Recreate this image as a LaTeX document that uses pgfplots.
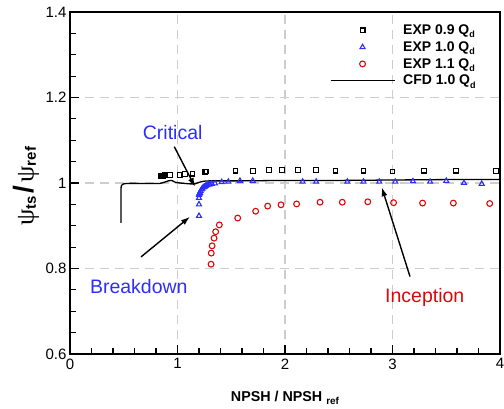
\documentclass[border=0pt]{standalone}
\usepackage{fontspec}
\setmainfont{Liberation Sans}
\newfontfamily\greek{Liberation Serif}
\usepackage{pgfplots}
\pgfplotsset{compat=1.18}
\usetikzlibrary{arrows.meta}

\definecolor{expblue}{RGB}{45,45,255}
\definecolor{expred}{RGB}{215,10,10}
\definecolor{gridgray}{RGB}{205,205,205}

\newcommand{\sub}[2][9]{\raisebox{-0.45ex}{\fontsize{#1}{#1}\selectfont #2}}

\begin{document}
\begin{tikzpicture}
\path[use as bounding box] (-70pt,-55pt) rectangle (434pt,354pt);
\begin{axis}[
  scale only axis,
  width=430pt, height=342pt,
  xmin=0, xmax=4, ymin=0.6, ymax=1.4,
  xtick={0,1,2,3,4},
  ytick={0.6,0.8,1,1.2,1.4},
  yticklabels={0.6,0.8,1,1.2,1.4},
  minor x tick num=4,
  minor y tick num=3,
  xtick pos=left, ytick pos=left,
  tick align=inside,
  major tick length=9pt, minor tick length=6pt,
  every tick/.style={black, line width=1.2pt},
  axis line style={line width=1.8pt},
  grid=major,
  major grid style={gridgray, line width=1.3pt, dash pattern=on 9pt off 6pt},
  /pgf/number format/assume math mode=true,
  ticklabel style={font=\fontsize{15}{15}\selectfont},
  xticklabel style={yshift=-1pt},
  xlabel={\bfseries NPSH / NPSH \sub[10]{ref}},
  xlabel style={at={(axis description cs:0.5,-0.128)}, anchor=center, font=\fontsize{14.3}{14.3}\selectfont},
  ylabel={{\greek\fontsize{26}{26}\selectfont ψ}\sub[15]{\bfseries ts}\hspace{3pt}{\bfseries\fontsize{28}{28}\selectfont /}\hspace{3pt}{\greek\fontsize{26}{26}\selectfont ψ}\sub[15]{\bfseries ref}},
  ylabel style={at={(axis description cs:-0.102,0.49)}, anchor=center},
  legend style={draw=none, fill=none, at={(rel axis cs:0.597,0.975)}, anchor=north west,
    font=\bfseries\fontsize{14}{14}\selectfont, row sep=1.5pt, column sep=6pt},
  legend cell align=left,
  legend image code/.code={\draw[mark repeat=2,mark phase=2,#1] plot coordinates {(0pt,0pt) (32pt,0pt) (64pt,0pt)};},
]
\addplot[only marks, mark=square, mark size=2.4pt, mark options={black, line width=1.1pt}] coordinates {
(0.85,1.017)(0.86,1.017)(0.87,1.017)(0.88,1.018)(0.93,1.018)(1.02,1.019)(1.07,1.021)(1.14,1.022)
(1.26,1.025)(1.27,1.027)(1.54,1.029)(1.70,1.028)(1.85,1.030)(1.975,1.030)(2.12,1.030)(2.29,1.030)
(2.47,1.029)(2.73,1.029)(3.00,1.027)(3.29,1.029)(3.59,1.029)(3.96,1.028)};
\addlegendentry{EXP 0.9 Q\sub{d}}
\addplot[only marks, mark=triangle, mark size=2.9pt, mark options={expblue, line width=1.1pt}] coordinates {
(1.20,0.923)(1.20,0.950)(1.20,0.965)(1.20,0.972)(1.203,0.975)(1.209,0.977)(1.215,0.981)(1.225,0.985)
(1.23,0.987)(1.24,0.990)(1.25,0.991)(1.262,0.993)(1.275,0.995)(1.287,0.996)(1.30,0.997)(1.318,0.998)
(1.349,0.999)(1.411,1.002)(1.473,1.003)(1.581,1.005)(1.70,1.005)(2.164,1.003)(2.29,1.003)(2.58,1.003)
(2.73,1.003)(2.877,1.003)(3.026,1.003)(3.19,1.004)(3.35,1.003)(3.50,1.005)(3.665,1.000)(3.83,0.998)};
\addlegendentry{EXP 1.0 Q\sub{d}}
\addplot[only marks, mark=o, mark size=2.9pt, mark options={expred, line width=1.1pt}] coordinates {
(1.312,0.810)(1.314,0.836)(1.322,0.853)(1.34,0.871)(1.355,0.886)(1.389,0.902)(1.56,0.918)(1.727,0.934)
(1.839,0.946)(1.963,0.949)(2.108,0.951)(2.326,0.955)(2.533,0.955)(2.77,0.956)(3.01,0.954)(3.28,0.953)
(3.566,0.953)(3.904,0.952)};
\addlegendentry{EXP 1.1 Q\sub{d}}
\addplot[black, line width=1.3pt, smooth, tension=0.3] coordinates {
(0.474,0.907)(0.474,0.984)(0.479,0.994)(0.49,0.997)(0.527,0.999)(0.70,0.999)(0.837,0.999)(0.868,1.001)
(0.915,1.005)(0.946,1.006)(0.977,1.002)(1.023,1.000)(1.116,0.998)(1.163,0.998)(1.194,1.001)(1.24,1.004)
(1.30,1.005)(1.6,1.005)(2.0,1.006)(2.5,1.006)(3.0,1.007)(3.5,1.008)(4.0,1.008)};
\addlegendentry{CFD 1.0 Q\sub{d}}

\node[expblue, font=\fontsize{19.5}{19.5}\selectfont] at (axis cs:0.955,1.118) {Critical};
\node[expblue, font=\fontsize{19.5}{19.5}\selectfont] at (axis cs:0.64,0.757) {Breakdown};
\node[expred, font=\fontsize{19.5}{19.5}\selectfont] at (axis cs:3.30,0.733) {Inception};
\draw[line width=1.4pt, -{Latex[length=9pt,width=6pt]}] (axis cs:0.97,1.085) -- (axis cs:1.163,0.991);
\draw[line width=1.4pt, -{Latex[length=9pt,width=6pt]}] (axis cs:0.66,0.827) -- (axis cs:1.116,0.921);
\draw[line width=1.4pt, -{Latex[length=9pt,width=6pt]}] (axis cs:3.163,0.781) -- (axis cs:2.90,0.99);
\end{axis}
\end{tikzpicture}
\end{document}
